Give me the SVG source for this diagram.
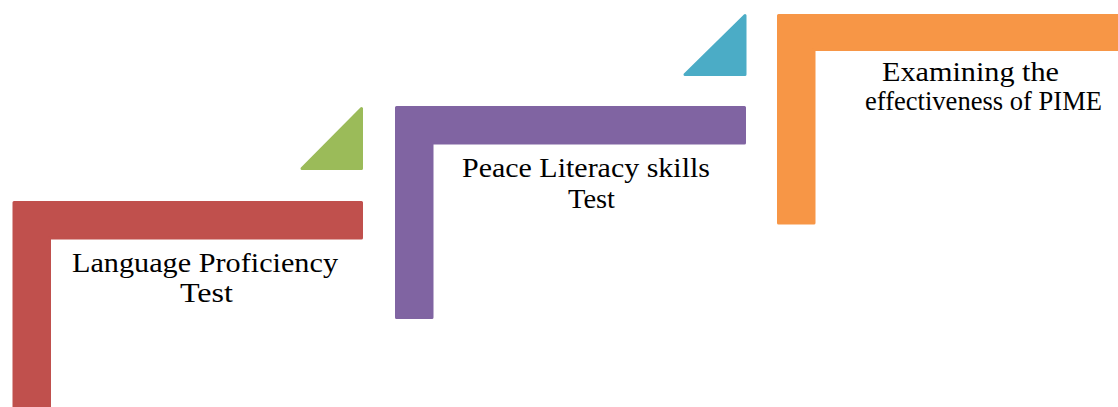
<svg xmlns="http://www.w3.org/2000/svg" width="1118" height="407" viewBox="0 0 1118 407">
  <style>
    .step { stroke-width: 3; stroke-linejoin: round; }
    .red { fill: #C0504D; stroke: #C0504D; }
    .purple { fill: #8064A2; stroke: #8064A2; }
    .orange { fill: #F79646; stroke: #F79646; }
    .green { fill: #9BBB59; stroke: #9BBB59; }
    .blue { fill: #4BACC6; stroke: #4BACC6; }
    .label { font-family: "Liberation Serif", "DejaVu Serif", serif; font-size: 27px; fill: #000000; }
  </style>
  <rect width="1118" height="407" fill="#FFFFFF"/>

  <!-- Step 1 -->
  <g id="step-language">
    <path class="step red" d="M14,202.5 H361.5 V238 H49.5 V410 H14 Z"/>
    <text class="label" x="72" y="272" textLength="266" lengthAdjust="spacingAndGlyphs">Language Proficiency</text>
    <text class="label" x="180" y="302" textLength="53" lengthAdjust="spacingAndGlyphs">Test</text>
  </g>

  <!-- Step 2 -->
  <g id="step-peace">
    <path class="step purple" d="M396.5,107.5 H744.5 V143 H432 V317.5 H396.5 Z"/>
    <text class="label" x="462" y="177" textLength="248" lengthAdjust="spacingAndGlyphs">Peace Literacy skills</text>
    <text class="label" x="568" y="208" textLength="47" lengthAdjust="spacingAndGlyphs">Test</text>
  </g>

  <!-- Step 3 -->
  <g id="step-pime">
    <path class="step orange" d="M778.5,15.5 H1121 V49.5 H814 V223 H778.5 Z"/>
    <text class="label" x="882" y="81" textLength="177" lengthAdjust="spacingAndGlyphs">Examining the</text>
    <text class="label" x="865" y="110" textLength="237" lengthAdjust="spacingAndGlyphs">effectiveness of PIME</text>
  </g>

  <!-- Connector arrows between steps -->
  <g id="connectors">
    <path class="step green" d="M302,168.5 L361.5,108.5 V168.5 Z"/>
    <path class="step blue" d="M685,74.5 L745,15.5 V74.5 Z"/>
  </g>
</svg>
